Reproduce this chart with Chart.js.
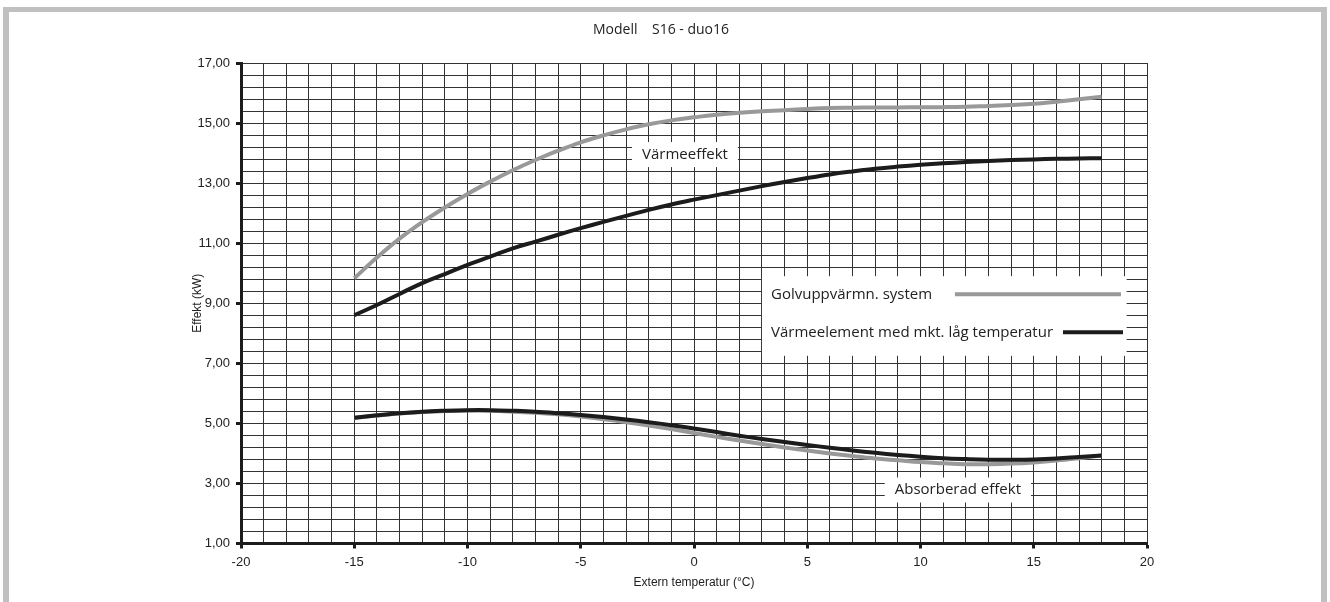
<!DOCTYPE html>
<html>
<head>
<meta charset="utf-8">
<title>Modell S16 - duo16</title>
<script src="https://cdn.jsdelivr.net/npm/chart.js@4.4.0/dist/chart.umd.min.js"></script>
<style>
  html, body { margin: 0; padding: 0; background: #fff; overflow: hidden; }
  #frame { position: absolute; left: 3px; top: 7px; width: 1312px; height: 640px; border: 6px solid #c0c0c0; border-top-width: 5px; }
  #wrap { position: absolute; left: 0; top: 0; width: 1330px; height: 602px; }
</style>
</head>
<body>
<div id="frame"></div>
<div id="wrap"><canvas id="chart"></canvas></div>
<script>
// Extern temperatur (°C)
const temps = [-15, -14, -13, -12, -11, -10, -9, -8, -7, -6, -5, -4, -3, -2, -1, 0,
  1, 2, 3, 4, 5, 6, 7, 8, 9, 10, 11, 12, 13, 14, 15, 16, 17, 18];

// Golvuppvärmn. system (grå)
const golvHeat = [9.83, 10.52, 11.15, 11.7, 12.19, 12.64, 13.05, 13.43, 13.77, 14.08, 14.36, 14.59, 14.79, 14.96, 15.09, 15.19,
  15.28, 15.34, 15.39, 15.43, 15.47, 15.5, 15.51, 15.52, 15.52, 15.53, 15.53, 15.54, 15.57, 15.6, 15.64, 15.71, 15.79, 15.88];
const golvAbs = [5.18, 5.26, 5.33, 5.38, 5.41, 5.43, 5.42, 5.39, 5.35, 5.3, 5.23, 5.14, 5.04, 4.93, 4.81, 4.68,
  4.55, 4.43, 4.31, 4.2, 4.1, 4.0, 3.91, 3.83, 3.77, 3.71, 3.67, 3.64, 3.64, 3.66, 3.7, 3.76, 3.84, 3.93];

// Värmeelement med mkt. låg temperatur (svart)
const elemHeat = [8.6, 8.94, 9.31, 9.67, 9.97, 10.28, 10.55, 10.83, 11.05, 11.28, 11.5, 11.71, 11.91, 12.11, 12.29, 12.45,
  12.6, 12.75, 12.9, 13.04, 13.17, 13.29, 13.39, 13.48, 13.55, 13.61, 13.66, 13.7, 13.74, 13.77, 13.79, 13.81, 13.82, 13.83];
const elemAbs = [5.19, 5.27, 5.34, 5.39, 5.42, 5.44, 5.44, 5.42, 5.39, 5.34, 5.28, 5.21, 5.13, 5.04, 4.94, 4.83,
  4.71, 4.59, 4.48, 4.38, 4.28, 4.19, 4.1, 4.02, 3.95, 3.89, 3.84, 3.81, 3.79, 3.79, 3.8, 3.83, 3.88, 3.93];

const GRAY = '#999999';
const BLACK = '#1c1c1c';
const GRID = '#333333';
const TEXT = '#222222';

const pts = vals => temps.map((t, i) => ({ x: t, y: vals[i] }));

const isMajorY = v => Math.abs((v - 1) / 2 - Math.round((v - 1) / 2)) < 1e-6;
const isMajorX = v => Math.abs(v / 5 - Math.round(v / 5)) < 1e-6;

// etiketter i diagrammet (dataenheter)
const notes = [
  { text: 'Värmeeffekt', x: -0.4, y: 13.95 },
  { text: 'Absorberad effekt', x: 11.65, y: 2.78 }
];
const legendBox = { x1: 3, x2: 19.1, y1: 9.9, y2: 7.25 };
const legendRows = [
  { text: 'Golvuppvärmn. system', color: GRAY, tx: 3.4, ty: 9.28, lx1: 11.52, lx2: 18.85 },
  { text: 'Värmeelement med mkt. låg temperatur', color: BLACK, tx: 3.4, ty: 8.02, lx1: 16.29, lx2: 18.94 }
];

const decor = {
  id: 'decor',
  beforeDatasetsDraw(chart) {
    const { ctx, scales: { x, y } } = chart;
    ctx.save();
    ctx.font = '15px "Open Sans"';
    ctx.textBaseline = 'middle';

    // små etiketter
    notes.forEach(n => {
      const w = ctx.measureText(n.text).width + 20;
      const cx = x.getPixelForValue(n.x), cy = y.getPixelForValue(n.y);
      ctx.fillStyle = '#fff';
      ctx.fillRect(cx - w / 2, cy - 12.5, w, 25);
      ctx.fillStyle = TEXT;
      ctx.textAlign = 'center';
      ctx.fillText(n.text, cx, cy);
    });

    // förklaring
    const bx1 = x.getPixelForValue(legendBox.x1), bx2 = x.getPixelForValue(legendBox.x2);
    const by1 = y.getPixelForValue(legendBox.y1), by2 = y.getPixelForValue(legendBox.y2);
    ctx.fillStyle = '#fff';
    ctx.fillRect(bx1, by1, bx2 - bx1, by2 - by1);
    legendRows.forEach(r => {
      ctx.fillStyle = TEXT;
      ctx.textAlign = 'left';
      ctx.fillText(r.text, x.getPixelForValue(r.tx), y.getPixelForValue(r.ty));
      ctx.strokeStyle = r.color;
      ctx.lineWidth = 4;
      ctx.beginPath();
      ctx.moveTo(x.getPixelForValue(r.lx1), y.getPixelForValue(r.ty) - 0.5);
      ctx.lineTo(x.getPixelForValue(r.lx2), y.getPixelForValue(r.ty) - 0.5);
      ctx.stroke();
    });
    ctx.restore();
  },
  afterDraw(chart) {
    const { ctx } = chart;
    ctx.save();
    ctx.font = '14px "Open Sans"';
    ctx.fillStyle = TEXT;
    ctx.textAlign = 'center';
    ctx.textBaseline = 'middle';
    ctx.fillText('Modell    S16 - duo16', 661, 30);
    ctx.restore();
  }
};

const line = (data, color) => ({
  data: pts(data),
  borderColor: color,
  borderWidth: 4,
  pointRadius: 0,
  tension: 0.4,
  fill: false
});

new Chart(document.getElementById('chart'), {
  type: 'line',
  data: {
    datasets: [
      line(elemHeat, BLACK),
      line(elemAbs, BLACK),
      line(golvHeat, GRAY),
      line(golvAbs, GRAY)
    ]
  },
  plugins: [decor],
  options: {
    responsive: true,
    maintainAspectRatio: false,
    animation: false,
    layout: { padding: { left: 0, right: 183, top: 63, bottom: 0 } },
    plugins: {
      legend: { display: false },
      title: { display: false },
      tooltip: { enabled: false }
    },
    scales: {
      x: {
        type: 'linear',
        min: -20,
        max: 20,
        afterFit: s => { s.height = 58.5; },
        border: { color: BLACK, width: 3 },
        grid: {
          color: GRID,
          lineWidth: 1,
          tickLength: 5,
          tickWidth: 3,
          tickColor: c => isMajorX(c.tick.value) ? BLACK : 'rgba(0,0,0,0)'
        },
        ticks: {
          stepSize: 1,
          autoSkip: false,
          maxRotation: 0,
          padding: 6,
          color: TEXT,
          font: { family: '"Liberation Sans", Arial', size: 13 },
          callback: v => isMajorX(v) ? String(v) : ''
        },
        title: {
          display: true,
          text: 'Extern temperatur (°C)',
          color: TEXT,
          font: { family: '"Liberation Sans", Arial', size: 12 },
          padding: { top: 0, bottom: 12 }
        }
      },
      y: {
        min: 1,
        max: 17,
        afterFit: s => { s.width = 241; },
        border: { color: BLACK, width: 3 },
        grid: {
          color: GRID,
          lineWidth: 1,
          tickLength: 5,
          tickWidth: 3,
          tickColor: c => isMajorY(c.tick.value) ? BLACK : 'rgba(0,0,0,0)'
        },
        ticks: {
          stepSize: 0.4,
          autoSkip: false,
          padding: 6,
          color: TEXT,
          font: { family: '"Liberation Sans", Arial', size: 13 },
          callback: v => isMajorY(v) ? v.toFixed(2).replace('.', ',') : ''
        },
        title: {
          display: true,
          text: 'Effekt (kW)',
          color: TEXT,
          font: { family: '"Liberation Sans", Arial', size: 12 },
          padding: { top: 190, bottom: 0 }
        }
      }
    }
  }
});
</script>
</body>
</html>
